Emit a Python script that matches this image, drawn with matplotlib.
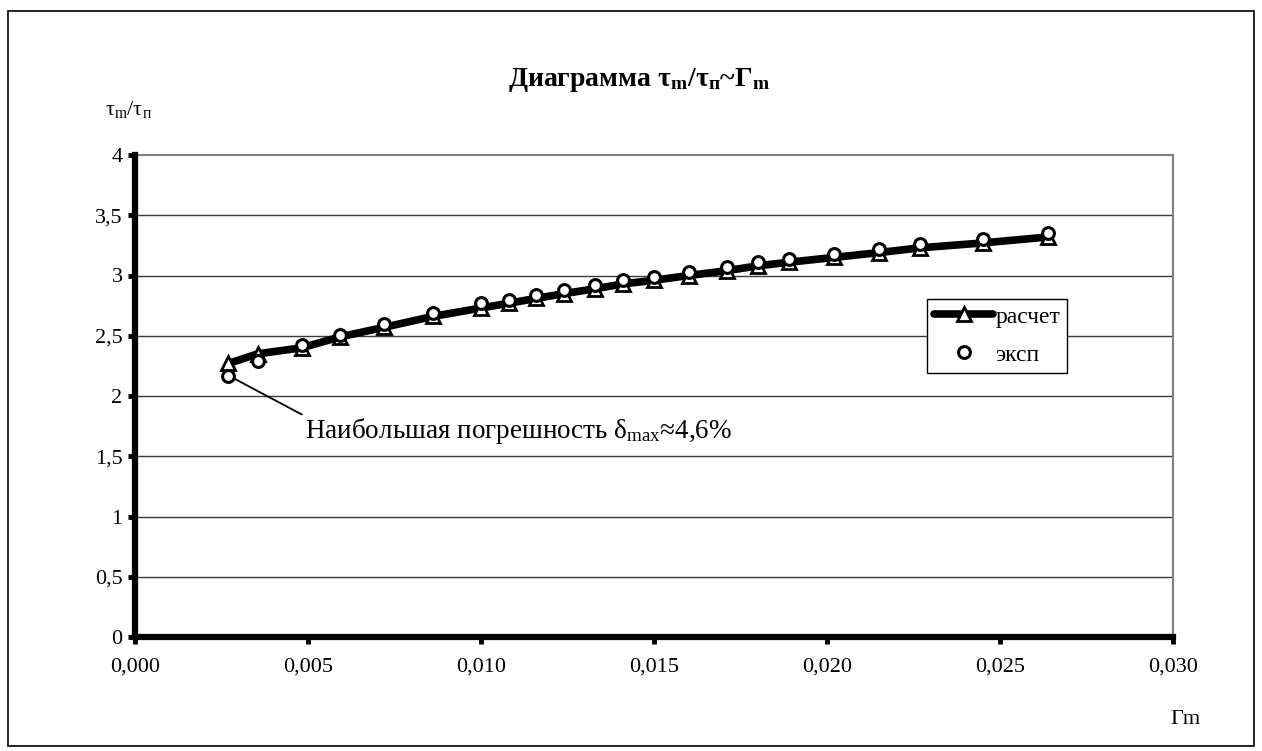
import matplotlib
matplotlib.use("Agg")
import matplotlib.pyplot as plt
from matplotlib.patches import Rectangle

plt.rcParams['font.family'] = ['Liberation Serif', 'DejaVu Serif']
plt.rcParams['mathtext.fontset'] = 'custom'
plt.rcParams['mathtext.rm'] = 'Liberation Serif'
plt.rcParams['mathtext.it'] = 'Liberation Serif:italic'
plt.rcParams['mathtext.bf'] = 'Liberation Serif:bold'

# Relative wall thickness Гm
gamma_m = [0.0027, 0.00355, 0.00482, 0.00592, 0.0072, 0.0086, 0.0100, 0.0108,
           0.0116, 0.0124, 0.0133, 0.0141, 0.0150, 0.0160, 0.0171, 0.0180,
           0.0189, 0.0202, 0.0215, 0.0227, 0.0245, 0.0264]
# Calculated ratio τm/τп
ratio_calc = [2.27, 2.35, 2.40, 2.49, 2.57, 2.66, 2.73, 2.77, 2.81, 2.85, 2.89,
              2.93, 2.96, 3.00, 3.04, 3.08, 3.11, 3.15, 3.19, 3.23, 3.27, 3.32]
# Experimental ratio τm/τп
ratio_exp = [2.17, 2.29, 2.42, 2.51, 2.60, 2.69, 2.77, 2.80, 2.84, 2.88, 2.92,
             2.96, 2.99, 3.03, 3.07, 3.11, 3.14, 3.18, 3.22, 3.26, 3.30, 3.35]

x_ticks = [0.000, 0.005, 0.010, 0.015, 0.020, 0.025, 0.030]
x_tick_labels = ['0,000', '0,005', '0,010', '0,015', '0,020', '0,025', '0,030']
y_ticks = [0, 0.5, 1, 1.5, 2, 2.5, 3, 3.5, 4]
y_tick_labels = ['0', '0,5', '1', '1,5', '2', '2,5', '3', '3,5', '4']

W, H = 1262, 751
fig = plt.figure(figsize=(W / 100, H / 100), dpi=100)
fig.patch.set_facecolor('white')

# outer chart frame
fig.patches.append(Rectangle((8 / W, 1 - 746 / H), 1246 / W, 735 / H,
                             transform=fig.transFigure, fill=False,
                             edgecolor='black', linewidth=1.2))

ax = fig.add_axes([135 / W, 1 - 637 / H, (1173 - 135) / W, (637 - 155) / H])
ax.set_xlim(0, 0.030)
ax.set_ylim(0, 4)

for y in y_ticks[1:-1]:
    ax.axhline(y, color='#3a3a3a', linewidth=1.0, zorder=1)

ax.spines['left'].set_linewidth(4.5)
ax.spines['bottom'].set_linewidth(4.5)
ax.spines['left'].set_color('black')
ax.spines['bottom'].set_color('black')
ax.spines['top'].set_color('#808080')
ax.spines['right'].set_color('#808080')
ax.spines['top'].set_linewidth(1.5)
ax.spines['right'].set_linewidth(1.5)
ax.spines['left'].set_zorder(5)
ax.spines['bottom'].set_zorder(5)

ax.set_xticks(x_ticks)
ax.set_xticklabels(x_tick_labels)
ax.set_yticks(y_ticks)
ax.set_yticklabels(y_tick_labels)
ax.tick_params(axis='both', direction='out', length=5, width=3.5,
               labelsize=16, color='black')
ax.tick_params(axis='x', pad=10)
ax.tick_params(axis='y', pad=4)

ax.plot(gamma_m, ratio_calc, color='black', linewidth=5.5, marker='^',
        markersize=10, markerfacecolor='white', markeredgecolor='black',
        markeredgewidth=2, label='расчет', zorder=3, solid_capstyle='round')
ax.plot(gamma_m, ratio_exp, linestyle='none', marker='o', markersize=8.5,
        markerfacecolor='white', markeredgecolor='black', markeredgewidth=2.2,
        label='эксп', zorder=4)

ax.annotate(r'Наибольшая погрешность $\mathrm{δ_{max}}$≈4,6%',
            xy=(gamma_m[0], ratio_exp[0]), xytext=(0.00490, 1.71),
            fontsize=19.5, ha='left', va='center',
            arrowprops=dict(arrowstyle='-', color='black', linewidth=1.3,
                            shrinkA=0, shrinkB=6, relpos=(0, 1)))

leg = ax.legend(loc='upper left', bbox_to_anchor=(927 / W, 1 - 299 / H),
                bbox_transform=fig.transFigure, fontsize=17, frameon=True,
                fancybox=False, framealpha=1, edgecolor='black',
                handlelength=2.5, handletextpad=0.1, borderpad=0.3,
                labelspacing=0.7, borderaxespad=0)
leg.get_frame().set_linewidth(1.0)

fig.text(639 / W, 1 - 80 / H,
         r'Диаграмма $\mathbf{τ_m/τ_п}$~$\mathbf{Г_m}$',
         fontsize=20, fontweight='bold', ha='center', va='center')
fig.text(105 / W, 1 - 110 / H, r'$\mathrm{τ_m/τ_п}$', fontsize=16,
         ha='left', va='center')
fig.text(1185 / W, 1 - 720 / H, 'Гm', fontsize=16, ha='center', va='center')

fig.savefig('out.png', dpi=100)
